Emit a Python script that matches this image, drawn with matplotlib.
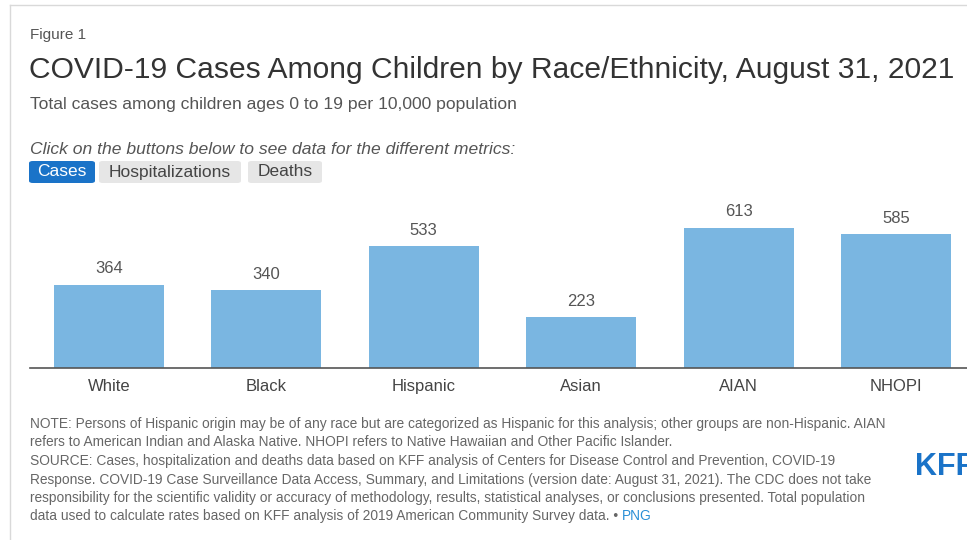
import matplotlib.pyplot as plt
from matplotlib.patches import FancyBboxPatch

plt.rcParams['font.family'] = ['Liberation Sans', 'DejaVu Sans']

groups = ['White', 'Black', 'Hispanic', 'Asian', 'AIAN', 'NHOPI']
cases = [364, 340, 533, 223, 613, 585]
buttons = ['Cases', 'Hospitalizations', 'Deaths']

W, H = 967, 540
fig = plt.figure(figsize=(W / 100, H / 100), dpi=100)


def px(x, y):
    return x / W, 1 - y / H


# frame lines of the page
fig.add_artist(plt.Line2D([10 / W, 10 / W], [0, 1 - 5 / H], color='#d9d9d9', lw=1))
fig.add_artist(plt.Line2D([10 / W, 1], [1 - 5 / H, 1 - 5 / H], color='#d9d9d9', lw=1))

grey = '#555555'
fig.text(*px(30, 35), 'Figure 1', fontsize=11, color=grey, va='center')
fig.text(*px(29, 70), 'COVID-19 Cases Among Children by Race/Ethnicity, August 31, 2021',
         fontsize=21.65, color='#333333', va='center')
fig.text(*px(30, 104), 'Total cases among children ages 0 to 19 per 10,000 population',
         fontsize=12.6, color=grey, va='center')
fig.text(*px(30, 150), 'Click on the buttons below to see data for the different metrics:',
         fontsize=12.6, color=grey, va='center', style='italic')

# metric buttons
btn_x = [(29, 95), (99, 241), (248, 322)]
for i, (name, (x0, x1)) in enumerate(zip(buttons, btn_x)):
    active = i == 0
    fig.add_artist(FancyBboxPatch(px(x0, 183), (x1 - x0) / W, 22 / H,
                                  boxstyle='round,pad=0,rounding_size=0.004',
                                  transform=fig.transFigure,
                                  fc='#1a73c8' if active else '#e6e6e6', ec='none'))
    fig.text(*px((x0 + x1) / 2, 172), name, fontsize=12.5,
             color='white' if active else '#444444', ha='center', va='center')

# bar chart
ax_l, ax_r = 30, 975
ax_t, ax_b = 190, 368
ax = fig.add_axes([ax_l / W, 1 - ax_b / H, (ax_r - ax_l) / W, (ax_b - ax_t) / H])
x = range(len(groups))
bars = ax.bar(x, cases, width=0.7, color='#7ab6e1')
ax.set_xlim(-0.5, len(groups) - 0.5)
ax.set_ylim(0, 779)
for b, v in zip(bars, cases):
    ax.text(b.get_x() + b.get_width() / 2, v + 70, str(v), ha='center', va='center',
            fontsize=12, color=grey)
ax.set_xticks(list(x))
ax.set_xticklabels(groups, fontsize=12, color='#444444')
ax.tick_params(axis='x', length=0, pad=8)
ax.set_yticks([])
for s in ['top', 'right', 'left']:
    ax.spines[s].set_visible(False)
ax.spines['bottom'].set_color('#555555')
ax.spines['bottom'].set_linewidth(1.2)

# notes and source
notes = [
    'NOTE: Persons of Hispanic origin may be of any race but are categorized as Hispanic for this analysis; other groups are non-Hispanic. AIAN',
    'refers to American Indian and Alaska Native. NHOPI refers to Native Hawaiian and Other Pacific Islander.',
    'SOURCE: Cases, hospitalization and deaths data based on KFF analysis of Centers for Disease Control and Prevention, COVID-19',
    'Response. COVID-19 Case Surveillance Data Access, Summary, and Limitations (version date: August 31, 2021). The CDC does not take',
    'responsibility for the scientific validity or accuracy of methodology, results, statistical analyses, or conclusions presented. Total population',
    'data used to calculate rates based on KFF analysis of 2019 American Community Survey data. \u2022 ',
]
note_y = [424, 442, 461, 480, 498, 516]
for line, y in zip(notes, note_y):
    t = fig.text(*px(30, y), line, fontsize=9.9, color='#666666', va='center')
fig.canvas.draw()
bb = t.get_window_extent()
fig.text(bb.x1 / W, 1 - 516 / H, 'PNG', fontsize=9.9, color='#2a8fd6', va='center')

fig.text(*px(915, 467), 'KFF', fontsize=22, color='#1a73c8', va='center', weight='bold')

fig.savefig('out.png', dpi=100)
